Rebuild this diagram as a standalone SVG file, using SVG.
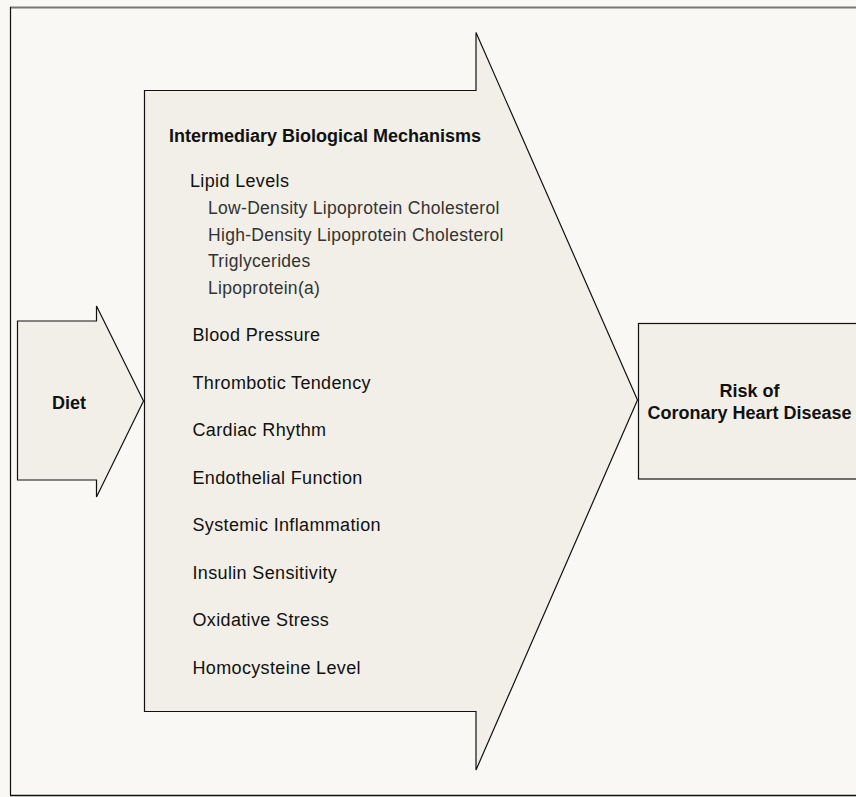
<svg xmlns="http://www.w3.org/2000/svg" width="856" height="797" viewBox="0 0 856 797">
<style>
.shape{fill:#f1efe7;stroke:#111;stroke-width:1.2;stroke-linejoin:miter}
text{font-family:"Liberation Sans",Arial,sans-serif;fill:#111}
.b{font-weight:bold;font-size:18px}
.m{font-size:18px;letter-spacing:0.35px}
.s{font-size:17.5px;letter-spacing:0.3px;fill:#333}
</style>
<rect x="0" y="0" width="856" height="797" fill="#f9f8f4"/>
<line x1="10" y1="7.5" x2="856" y2="7.5" stroke="#777" stroke-width="2"/>
<line x1="10.5" y1="7" x2="10.5" y2="795" stroke="#111" stroke-width="1.2"/>
<line x1="10" y1="795.5" x2="856" y2="795.5" stroke="#111" stroke-width="1.5"/>
<g id="connectors"/>
<g id="diet">
<polygon class="shape" points="17.5,321 96.5,321 96.5,306 143.5,401 96.5,497 96.5,480 17.5,480"/>
<text class="b" x="69" y="409" text-anchor="middle">Diet</text>
</g>
<g id="mechanisms">
<polygon class="shape" points="144.5,90.5 476,90.5 476,32.5 637.5,400 476,770 476,711.5 144.5,711.5"/>
<text class="b" x="169" y="142">Intermediary Biological Mechanisms</text>
<text class="m" x="190" y="187">Lipid Levels</text>
<text class="s" x="208" y="214">Low-Density Lipoprotein Cholesterol</text>
<text class="s" x="208" y="240.7">High-Density Lipoprotein Cholesterol</text>
<text class="s" x="208" y="267">Triglycerides</text>
<text class="s" x="208" y="294">Lipoprotein(a)</text>
<text class="m" x="192.5" y="341">Blood Pressure</text>
<text class="m" x="192.5" y="388.5">Thrombotic Tendency</text>
<text class="m" x="192.5" y="436">Cardiac Rhythm</text>
<text class="m" x="192.5" y="484">Endothelial Function</text>
<text class="m" x="192.5" y="531">Systemic Inflammation</text>
<text class="m" x="192.5" y="579">Insulin Sensitivity</text>
<text class="m" x="192.5" y="626">Oxidative Stress</text>
<text class="m" x="192.5" y="674">Homocysteine Level</text>
</g>
<g id="risk">
<rect class="shape" x="638.5" y="323.5" width="224" height="155.5"/>
<text class="b" x="749.5" y="397" text-anchor="middle">Risk of</text>
<text class="b" x="749.5" y="419" text-anchor="middle">Coronary Heart Disease</text>
</g>
</svg>
